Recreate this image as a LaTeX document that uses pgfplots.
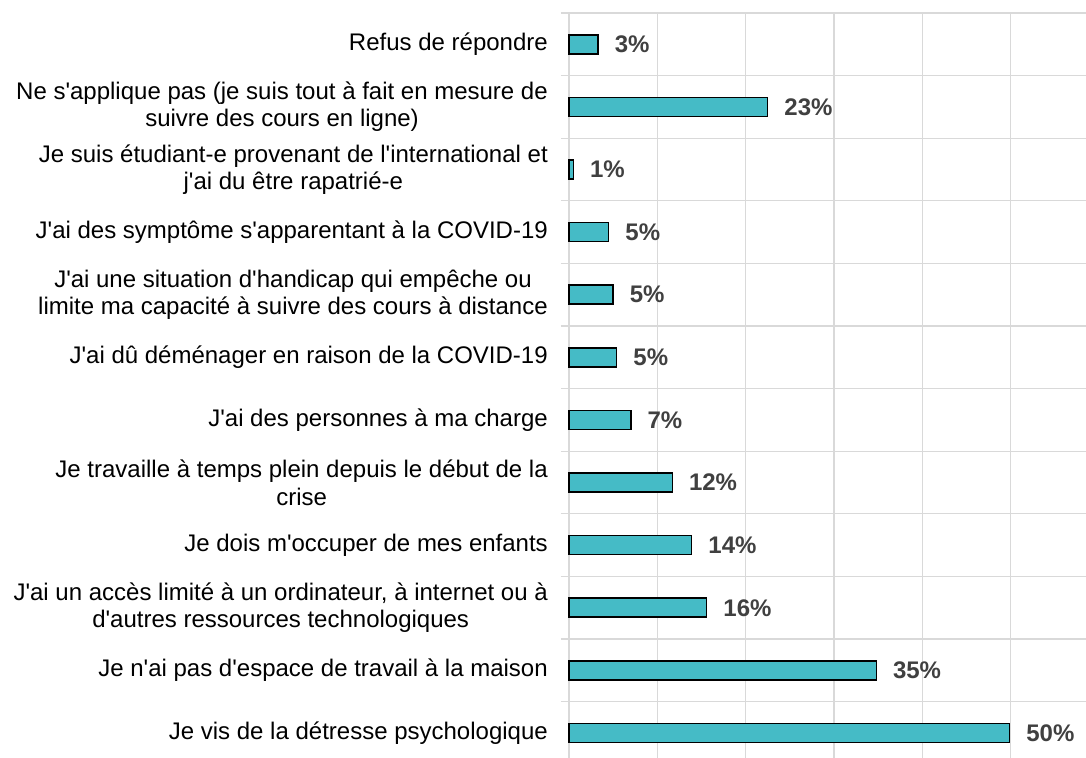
\documentclass[border=0pt]{standalone}
\usepackage{pgfplots}
\pgfplotsset{compat=1.18}
\usepackage{pgfplotstable}
\usepackage{fontspec}
\setmainfont{Liberation Sans}[Ligatures=TeXOff]
\definecolor{barfill}{HTML}{45BBC6}
\definecolor{gridc}{HTML}{D9D9D9}
\definecolor{valc}{HTML}{404040}

\pgfplotstableread[col sep=comma]{
y,v,lab
0,49.9,50\%
1,34.8,35\%
2,15.6,16\%
3,13.9,14\%
4,11.7,12\%
5,7.0,7\%
6,5.4,5\%
7,5.0,5\%
8,4.5,5\%
9,0.5,1\%
10,22.5,23\%
11,3.3,3\%
}\datatable

\begin{document}
\begin{tikzpicture}
\begin{axis}[
  name=ax,
  xbar,
  scale only axis,
  width=517pt, height=745pt,
  xmin=0, xmax=58.55,
  ymin=-0.4, ymax=11.5,
  axis line style={draw=none},
  xtick={0,10,20,30,40,50},
  xticklabels={},
  xmajorgrids=true,
  ytick={0,...,11},
  minor ytick={-0.5,0.5,...,11.5},
  yminorgrids=true,
  ymajorgrids=false,
  grid style={draw=gridc, line width=1.3pt},
  minor grid style={draw=gridc, line width=1.3pt},
  major tick length=0pt,
  minor tick length=8pt,
  tick align=outside,
  ytick pos=left,
  xtick pos=bottom,
  minor tick style={draw=gridc, line width=1.3pt},
  major tick style={draw=none},
  yticklabels={
    {Je vis de la détresse psychologique},
    {Je n'ai pas d'espace de travail à la maison},
    {J'ai un accès limité à un ordinateur, à internet ou à\\d'autres ressources technologiques},
    {Je dois m'occuper de mes enfants},
    {Je travaille à temps plein depuis le début de la\\crise},
    {J'ai des personnes à ma charge},
    {J'ai dû déménager en raison de la COVID-19},
    {J'ai une situation d'handicap qui empêche ou\\limite ma capacité à suivre des cours à distance},
    {J'ai des symptôme s'apparentant à la COVID-19},
    {Je suis étudiant-e provenant de l'international et\\j'ai du être rapatrié-e},
    {Ne s'applique pas (je suis tout à fait en mesure de\\suivre des cours en ligne)},
    {Refus de répondre}
  },
  yticklabel style={align=center, font=\fontsize{24}{27.5}\selectfont, text=black, inner sep=0pt, xshift=-21pt},
  bar width=19pt,
  nodes near coords,
  point meta=explicit symbolic,
  nodes near coords style={anchor=west, inner sep=0pt, xshift=16pt, font=\fontsize{24}{27}\selectfont\bfseries, text=valc},
  clip=false,
]
\addplot[fill=barfill, draw=black, line width=1.5pt] table[x=v, y=y, meta=lab] {\datatable};
\end{axis}
\pgfresetboundingbox
\path ([xshift=-569pt]ax.south west) rectangle ([yshift=13pt]ax.north east);
\end{tikzpicture}
\end{document}
